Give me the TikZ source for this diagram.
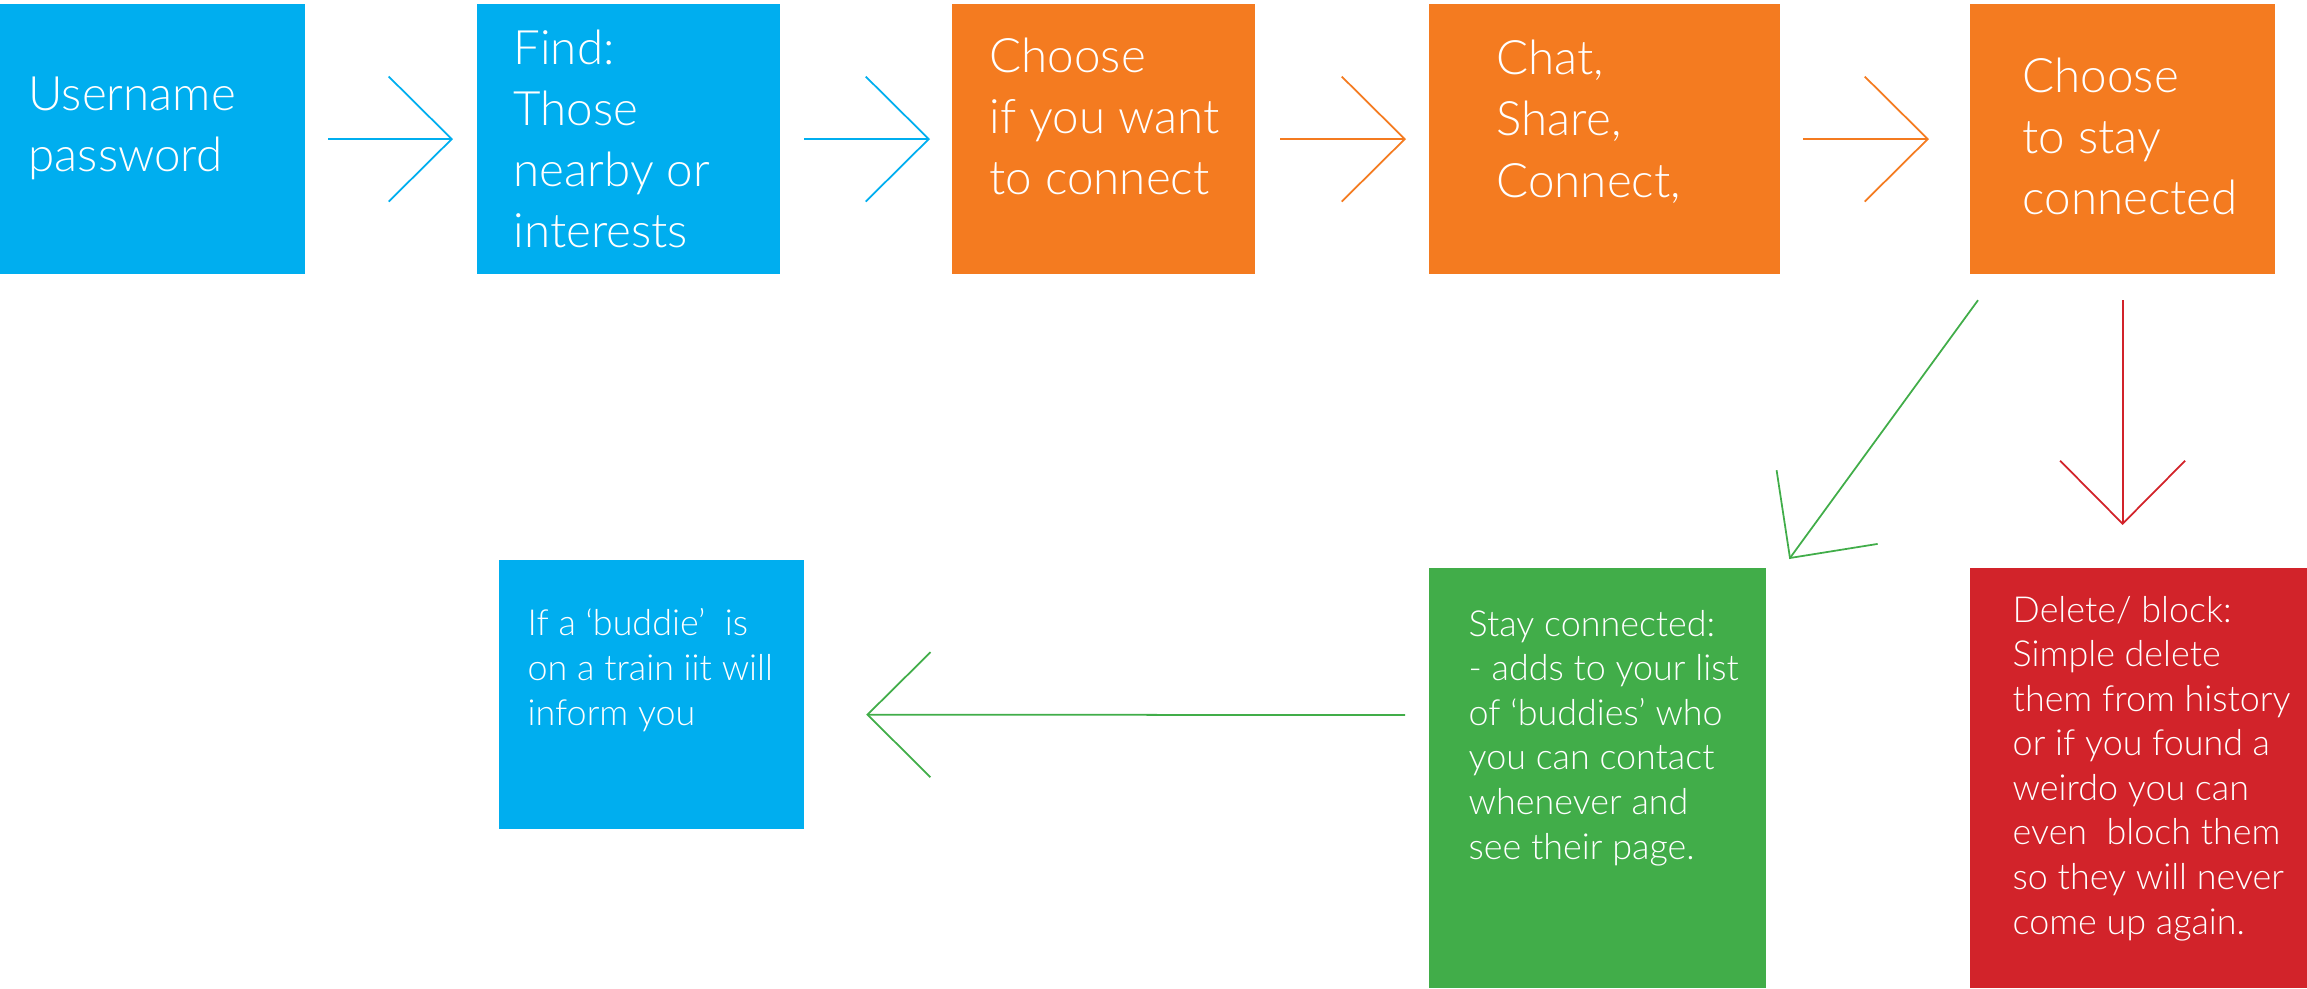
\documentclass[tikz,border=0pt]{standalone}
\usepackage{fontspec}
\setmainfont{Lato Light}
\usetikzlibrary{arrows.meta}

\definecolor{skyblue}{RGB}{0,174,239}
\definecolor{florange}{RGB}{244,123,32}
\definecolor{flgreen}{RGB}{65,173,73}
\definecolor{flred}{RGB}{210,35,42}

\begin{document}
\begin{tikzpicture}[x=0.01cm, y=-0.01cm,
    box/.style={rectangle, anchor=north west, inner sep=0pt, outer sep=0pt, minimum height=2.7cm},
    bigtext/.style={anchor=base west, inner sep=0pt, align=left, text=white, font=\fontsize{13.5}{17.35}\selectfont},
    smalltext/.style={anchor=base west, inner sep=0pt, align=left, text=white, font=\fontsize{10.2}{12.66}\selectfont},
    flow/.style={line width=0.5pt, -{Straight Barb[length=0.63cm, width=1.25cm]}}]

    \useasboundingbox (0,0) rectangle (2307,988);

    % top row
    \node[box, fill=skyblue, minimum width=3.05cm] (login) at (0,4) {};
    \node[box, fill=skyblue, minimum width=3.03cm] (find) at (477,4) {};
    \node[box, fill=florange, minimum width=3.03cm] (choose) at (952,4) {};
    \node[box, fill=florange, minimum width=3.51cm] (chat) at (1429,4) {};
    \node[box, fill=florange, minimum width=3.05cm] (decide) at (1970,4) {};

    % bottom row
    \node[box, fill=skyblue, minimum width=3.05cm, minimum height=2.69cm] (notify) at (499,560) {};
    \node[box, fill=flgreen, minimum width=3.37cm, minimum height=4.2cm] (keep) at (1429,568) {};
    \node[box, fill=flred, minimum width=3.37cm, minimum height=4.2cm] (block) at (1970,568) {};

    % texts (placed at the baseline of their last line)
    \node[bigtext] (login-t) at (28,172) {Username\\password};
    \node[bigtext] (find-t) at (513,248) {Find:\\Those\\nearby or\\interests};
    \node[bigtext] (choose-t) at (989,195) {Choose\\if you want\\to connect};
    \node[bigtext] (chat-t) at (1496,197) {Chat,\\Share,\\Connect,};
    \node[bigtext] (decide-t) at (2022,215) {Choose\\to stay\\connected};

    \node[smalltext] (notify-t) at (527,725) {If a ‘buddie’~ is\\on a train iit will\\inform you};
    \node[smalltext] (keep-t) at (1468,859) {Stay connected:\\- adds to your list\\of ‘buddies’ who\\you can contact\\whenever and\\see their page.};
    \node[smalltext] (block-t) at (2012,934) {Delete/ block:\\Simple delete\\them from history\\or if you found a\\weirdo you can\\even~ bloch them\\so they will never\\come up again.};

    % arrows
    \draw[flow, skyblue, shorten <=0.23cm, shorten >=0.24cm] (login) -- (find);
    \draw[flow, skyblue, shorten <=0.24cm, shorten >=0.22cm] (find) -- (choose);
    \draw[flow, florange, shorten <=0.25cm, shorten >=0.23cm] (choose) -- (chat);
    \draw[flow, florange, shorten <=0.23cm, shorten >=0.41cm] (chat) -- (decide);

    \draw[flow, flgreen] ([xshift=0.08cm,yshift=-0.26cm]decide.south west) -- ([xshift=0.23cm,yshift=0.09cm]keep.north east);
    \draw[flow, flred, shorten <=0.26cm, shorten >=0.43cm] (decide.south) -- (decide.south |- block.north);
    \draw[flow, flgreen, shorten <=0.24cm, shorten >=0.62cm] ([yshift=0.63cm]keep.west) -- ([yshift=-0.2cm]notify.east);

\end{tikzpicture}
\end{document}
